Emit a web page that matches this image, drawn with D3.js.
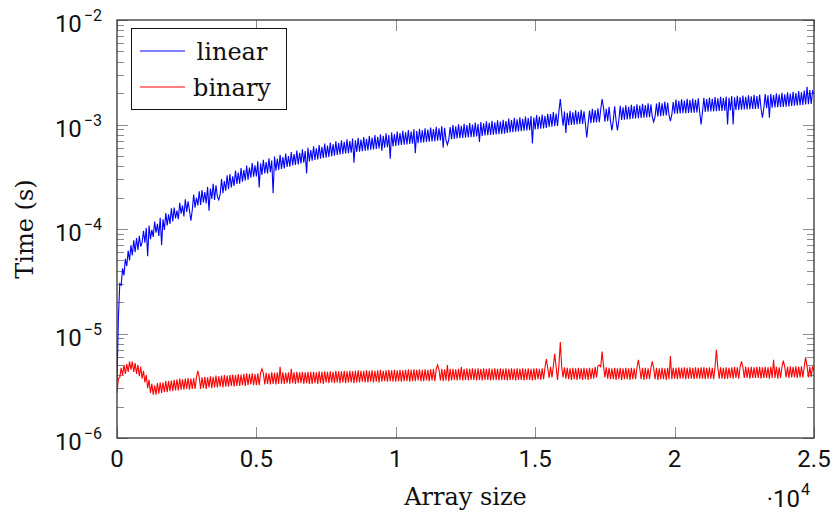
<!DOCTYPE html>
<html>
<head>
<meta charset="utf-8">
<script src="https://cdn.jsdelivr.net/npm/d3@7"></script>
<style>
  body { margin: 0; background: #fff; }
  svg { display: block; }
</style>
</head>
<body>
<script>
const svgW = 833;
const svgH = 513;
const margin = { top: 20, right: 19, bottom: 75, left: 117 };
const w = svgW - margin.left - margin.right;
const h = svgH - margin.top - margin.bottom;

// array sizes, sampled every 50 elements
const sizeStep = 50;
const sizes = d3.range(0, 25000 + sizeStep, sizeStep);

// time per search in microseconds (one row = 1000 elements)
const linearUs = [
  3.5, 14, 30, 29, 42, 36, 52, 44, 62, 50, 70, 56, 78, 60, 82, 63, 86, 68, 74, 96,
  74, 102, 55, 108, 80, 98, 84, 118, 92, 112, 86, 128, 70, 124, 98, 142, 108, 138, 112, 158,
  118, 160, 126, 150, 124, 178, 140, 168, 132, 192, 146, 184, 150, 120, 152, 214, 160, 200, 168, 230,
  170, 236, 180, 226, 176, 254, 150, 244, 194, 270, 190, 262, 204, 190, 214, 300, 220, 288, 232, 326,
  240, 336, 250, 320, 258, 362, 270, 346, 272, 384, 284, 366, 292, 404, 296, 388, 310, 428, 316, 406,
  318, 444, 250, 424, 330, 460, 340, 436, 340, 476, 350, 452, 220, 494, 362, 470, 368, 512, 376, 488,
  380, 526, 392, 500, 394, 546, 406, 520, 410, 562, 414, 536, 424, 580, 430, 556, 340, 598, 444, 570,
  450, 618, 458, 592, 462, 636, 472, 612, 478, 656, 482, 628, 490, 672, 498, 648, 504, 692, 510, 664,
  516, 706, 522, 682, 528, 720, 530, 694, 536, 734, 430, 704, 546, 744, 550, 716, 556, 758, 560, 728,
  566, 776, 574, 748, 578, 792, 584, 762, 590, 806, 560, 778, 600, 822, 606, 794, 470, 840, 618, 808,
  624, 856, 630, 828, 636, 870, 640, 842, 646, 884, 650, 854, 656, 898, 530, 866, 664, 910, 668, 878,
  674, 922, 680, 894, 684, 936, 690, 906, 694, 950, 700, 920, 704, 964, 600, 932, 712, 640, 718, 946,
  722, 990, 728, 960, 734, 1004, 738, 974, 744, 1018, 748, 986, 752, 1030, 758, 1000, 762, 1044, 768, 1012,
  680, 1058, 778, 1026, 784, 1072, 788, 1040, 794, 1084, 798, 1052, 804, 1098, 808, 1064, 812, 1112, 818, 1078,
  832, 1138, 838, 1104, 846, 1156, 852, 1120, 858, 1172, 864, 1136, 872, 1190, 878, 1152, 884, 1206, 660, 1168,
  898, 1230, 904, 1194, 912, 1248, 918, 1210, 926, 1266, 946, 1256, 954, 1312, 962, 1274, 968, 1330, 1750, 1290,
  976, 1334, 830, 1296, 986, 1350, 992, 1310, 998, 1366, 1004, 1324, 1010, 1382, 1014, 1340, 1020, 750, 1026, 1356,
  1032, 1414, 1040, 1372, 1046, 1432, 1054, 1390, 1750, 1456, 1066, 1412, 1074, 1474, 1080, 880, 1088, 1492, 1094, 880,
  1098, 1506, 1106, 1462, 1112, 1524, 1120, 1480, 1126, 1542, 1134, 1498, 1140, 1560, 1148, 1516, 1154, 1576, 1160, 1534,
  1166, 1598, 1174, 1556, 1180, 1060, 1188, 1584, 1196, 1636, 1204, 1594, 1212, 1656, 1220, 1612, 1226, 1080, 1234, 1636,
  1266, 1734, 1270, 1686, 1276, 1746, 1280, 1698, 1286, 1758, 1290, 1710, 1296, 1770, 1300, 1722, 1306, 1784, 1310, 1000,
  1316, 1802, 1320, 1752, 1326, 1814, 1330, 1764, 1336, 1826, 1340, 1776, 1346, 1840, 1350, 1788, 1356, 1852, 1000, 1802,
  1366, 1870, 1000, 1820, 1376, 1884, 1380, 1832, 1386, 1896, 1390, 1844, 1396, 1908, 1400, 1856, 1406, 1922, 1410, 1870,
  1416, 1938, 1422, 1160, 1430, 1956, 1436, 1902, 1160, 1972, 1450, 1918, 1456, 1990, 1462, 1934, 1470, 2006, 1476, 1950,
  1482, 2030, 1492, 1976, 1502, 2058, 1512, 2002, 1522, 2086, 1532, 2028, 1542, 2114, 1552, 2300, 1562, 2140, 1572, 2080,
  1980
];
const binaryUs = [
  2.7, 3.7, 3.8, 4.7, 4.0, 5.0, 4.1, 5.1, 4.3, 5.4, 4.5, 5.4, 4.3, 5.2, 4.1, 5.0, 3.9, 4.8, 3.7, 4.4,
  3.4, 4.0, 3.0, 3.6, 2.7, 3.3, 2.6, 3.2, 2.6, 3.35, 2.65, 3.4, 2.7, 3.4, 2.75, 3.5, 2.75, 3.5, 2.8, 3.55,
  2.8, 3.6, 2.85, 3.65, 2.85, 3.7, 2.9, 3.65, 2.9, 3.7, 2.95, 3.75, 2.9, 3.7, 2.95, 3.75, 2.95, 3.8, 4.4, 3.8,
  2.95, 3.8, 3.0, 3.85, 2.95, 3.8, 3.05, 3.9, 3.0, 3.85, 3.05, 3.95, 3.05, 3.9, 3.1, 3.95, 3.05, 4.0, 3.1, 3.95,
  3.1, 4.0, 3.15, 4.05, 3.1, 4.0, 3.15, 4.1, 3.15, 4.05, 3.2, 4.1, 3.15, 4.15, 3.2, 4.1, 3.25, 4.15, 3.2, 4.1,
  3.2, 4.15, 3.2, 4.2, 4.6, 4.15, 3.25, 4.2, 3.3, 4.15, 3.25, 4.25, 3.3, 4.2, 3.25, 4.25, 3.3, 4.8, 3.3, 4.25,
  3.3, 4.2, 3.35, 4.25, 3.3, 4.6, 3.35, 4.25, 3.3, 4.3, 3.35, 4.25, 3.35, 4.3, 3.3, 4.25, 3.35, 4.3, 3.3, 4.3,
  3.3, 4.3, 3.35, 4.25, 3.3, 4.35, 3.35, 4.3, 3.3, 4.35, 3.4, 4.3, 3.35, 4.35, 3.4, 4.3, 3.35, 4.4, 3.4, 4.35,
  3.35, 4.35, 3.4, 4.4, 3.35, 4.35, 3.4, 4.4, 3.4, 4.35, 3.35, 4.4, 3.4, 4.45, 3.4, 4.4, 3.45, 4.4, 3.4, 4.45,
  3.4, 4.4, 3.45, 4.45, 3.4, 4.4, 3.45, 4.45, 3.4, 4.5, 3.45, 4.4, 3.5, 4.45, 3.45, 4.5, 3.5, 4.45, 3.45, 4.5,
  3.45, 4.45, 3.5, 4.5, 3.45, 4.45, 3.5, 4.5, 3.5, 4.55, 3.45, 4.5, 3.5, 4.55, 3.5, 4.5, 3.55, 4.55, 3.5, 4.5,
  3.5, 4.55, 3.55, 4.5, 3.5, 4.55, 3.55, 4.6, 3.5, 4.55, 5.0, 4.5, 3.55, 4.6, 3.5, 4.55, 3.55, 5.0, 3.5, 4.6,
  3.55, 4.6, 3.6, 4.55, 3.55, 4.6, 3.6, 4.8, 3.55, 4.6, 3.6, 4.65, 3.55, 4.6, 3.6, 4.65, 3.6, 4.6, 3.55, 4.65,
  3.6, 4.6, 3.55, 4.65, 3.6, 4.6, 3.6, 4.65, 3.55, 4.6, 3.6, 4.65, 3.6, 4.6, 3.55, 4.65, 3.6, 4.6, 3.6, 4.65,
  3.55, 4.6, 3.6, 4.65, 3.6, 4.6, 3.55, 4.65, 3.6, 4.6, 3.6, 4.65, 3.55, 4.6, 3.6, 4.65, 3.6, 4.6, 3.55, 4.65,
  3.6, 4.65, 3.65, 4.6, 3.6, 4.65, 3.65, 4.7, 5.7, 4.65, 3.75, 4.8, 3.8, 4.85, 6.4, 4.8, 3.6, 4.9, 8.3, 4.8,
  3.8, 4.75, 3.7, 4.7, 3.65, 4.65, 3.6, 4.7, 3.65, 4.65, 3.6, 4.7, 3.65, 4.65, 3.6, 4.7, 3.65, 4.65, 3.6, 4.7,
  3.65, 4.65, 3.7, 4.8, 3.8, 4.9, 5.0, 4.8, 6.7, 4.9, 3.8, 4.75, 3.7, 4.7, 3.65, 4.65, 3.65, 4.7, 3.6, 4.65,
  3.65, 4.7, 3.6, 4.65, 3.65, 4.7, 3.65, 4.65, 3.6, 4.7, 3.65, 4.65, 3.65, 4.7, 5.6, 4.65, 3.65, 4.7, 3.6, 4.7,
  3.65, 4.65, 3.65, 4.7, 5.4, 4.65, 3.65, 4.7, 3.6, 4.65, 3.65, 4.7, 3.65, 4.65, 3.6, 4.7, 3.65, 6.1, 3.65, 4.7,
  3.7, 4.7, 3.65, 4.75, 3.7, 4.7, 3.7, 4.75, 3.65, 4.7, 3.7, 4.75, 3.7, 4.7, 3.65, 4.75, 3.7, 4.7, 3.7, 4.75,
  3.7, 4.75, 3.65, 4.7, 3.7, 4.75, 3.7, 4.7, 3.65, 4.75, 7.0, 4.7, 3.7, 4.75, 3.7, 4.7, 3.65, 4.75, 3.7, 4.7,
  3.75, 4.75, 3.7, 4.8, 3.75, 4.75, 3.7, 4.8, 5.4, 4.75, 3.75, 4.8, 3.75, 4.75, 3.7, 4.8, 3.75, 4.75, 3.75, 4.8,
  3.75, 4.8, 3.7, 4.75, 3.75, 4.8, 3.75, 4.75, 3.7, 4.8, 3.75, 5.6, 3.75, 4.8, 3.7, 4.75, 3.75, 4.8, 5.5, 4.8,
  3.8, 4.8, 3.75, 4.85, 3.8, 4.8, 3.8, 4.85, 3.75, 4.8, 3.8, 4.85, 3.8, 4.8, 5.9, 4.85, 3.8, 4.8, 3.85, 4.85,
  4.4
];

const seriesNames = ['linear', 'binary'];
const seriesColors = ['#0000ff', '#ff0000'];
const xTicks = [0, 5000, 10000, 15000, 20000, 25000];
const xTickLabels = ['0', '0.5', '1', '1.5', '2', '2.5'];
const yExps = [-6, -5, -4, -3, -2];

const svg = d3.select('body')
              .append('svg')
              .attr('width', svgW)
              .attr('height', svgH);

const g = svg.append('g')
             .attr('transform', `translate(${margin.left}, ${margin.top})`);

const x = d3.scaleLinear().domain([0, 25000]).range([0, w]);
const y = d3.scaleLog().domain([1e-6, 1e-2]).range([h, 0]);

svg.append('defs').append('clipPath').attr('id', 'clip')
   .append('rect').attr('width', w).attr('height', h);

// minor ticks 2..9 in every decade, left and right
const minor = [];
yExps.slice(0, -1).forEach(e => {
  for (let k = 2; k <= 9; k++) minor.push(k * Math.pow(10, e));
});
const major = yExps.map(e => Math.pow(10, e));

const tickColor = '#8c8c8c';
const ticks = g.append('g').attr('stroke', tickColor).attr('stroke-width', 1);
minor.forEach(v => {
  const yy = Math.round(y(v)) + 0.5;
  ticks.append('line').attr('x1', 0).attr('x2', 7).attr('y1', yy).attr('y2', yy);
  ticks.append('line').attr('x1', w).attr('x2', w - 7).attr('y1', yy).attr('y2', yy);
});
major.forEach(v => {
  const yy = Math.round(y(v)) + 0.5;
  ticks.append('line').attr('x1', 0).attr('x2', 11).attr('y1', yy).attr('y2', yy);
  ticks.append('line').attr('x1', w).attr('x2', w - 11).attr('y1', yy).attr('y2', yy);
});
xTicks.forEach(v => {
  const xx = Math.round(x(v)) + 0.5;
  ticks.append('line').attr('x1', xx).attr('x2', xx).attr('y1', h).attr('y2', h - 11);
  ticks.append('line').attr('x1', xx).attr('x2', xx).attr('y1', 0).attr('y2', 11);
});

// the two series
const line = d3.line()
               .x((d, i) => x(sizes[i]))
               .y(d => y(d * 1e-6));

const plot = g.append('g').attr('clip-path', 'url(#clip)');
[linearUs, binaryUs].forEach((s, i) => {
  plot.append('path')
      .attr('d', line(s))
      .attr('fill', 'none')
      .attr('stroke', seriesColors[i])
      .attr('stroke-width', 1.1);
});

// frame
g.append('rect')
 .attr('width', w).attr('height', h)
 .attr('fill', 'none')
 .attr('stroke', '#333')
 .attr('stroke-width', 1.3);

// tick labels
const tickFont = 'Roboto, sans-serif';
g.selectAll('.xlab')
 .data(xTicks)
 .enter()
 .append('text')
 .attr('x', d => x(d))
 .attr('y', h + 29)
 .attr('text-anchor', 'middle')
 .attr('font-family', tickFont)
 .attr('font-size', 24)
 .attr('fill', '#111')
 .text((d, i) => xTickLabels[i]);

yExps.forEach(e => {
  const t = g.append('text')
             .attr('x', -15)
             .attr('y', y(Math.pow(10, e)) + 12)
             .attr('text-anchor', 'end')
             .attr('font-family', tickFont)
             .attr('font-size', 24)
             .attr('fill', '#111');
  t.append('tspan').text('10');
  t.append('tspan')
   .attr('dy', -11)
   .attr('dx', 2)
   .attr('font-size', 16)
   .text('\u2212' + Math.abs(e));
});

// ·10^4 multiplier
const mult = svg.append('text')
                .attr('x', 810)
                .attr('y', 507)
                .attr('text-anchor', 'end')
                .attr('font-family', tickFont)
                .attr('font-size', 24)
                .attr('fill', '#111');
mult.append('tspan').text('\u00b710');
mult.append('tspan').attr('dy', -12).attr('dx', 1).attr('font-size', 16).text('4');

// axis labels
const labelFont = '"DejaVu Serif", serif';
svg.append('text')
   .attr('x', margin.left + w / 2)
   .attr('y', 505)
   .attr('text-anchor', 'middle')
   .attr('font-family', labelFont)
   .attr('font-size', 24)
   .attr('fill', '#111')
   .text('Array size');

svg.append('text')
   .attr('transform', `translate(33, ${margin.top + h / 2}) rotate(-90)`)
   .attr('text-anchor', 'middle')
   .attr('font-family', labelFont)
   .attr('font-size', 24)
   .attr('fill', '#111')
   .text('Time (s)');

// legend
const lg = svg.append('g').attr('transform', 'translate(131, 28)');
lg.append('rect')
  .attr('x', 0.5).attr('y', 0.5)
  .attr('width', 155).attr('height', 81)
  .attr('fill', '#fff')
  .attr('stroke', '#111')
  .attr('stroke-width', 1);
seriesNames.forEach((name, i) => {
  const ly = 23 + i * 36;
  lg.append('line')
    .attr('x1', 9).attr('x2', 54)
    .attr('y1', ly).attr('y2', ly)
    .attr('stroke', seriesColors[i])
    .attr('stroke-width', 1);
  lg.append('text')
    .attr('x', 101)
    .attr('y', ly + 9)
    .attr('text-anchor', 'middle')
    .attr('font-family', labelFont)
    .attr('font-size', 24)
    .attr('fill', '#111')
    .text(name);
});
</script>
</body>
</html>
